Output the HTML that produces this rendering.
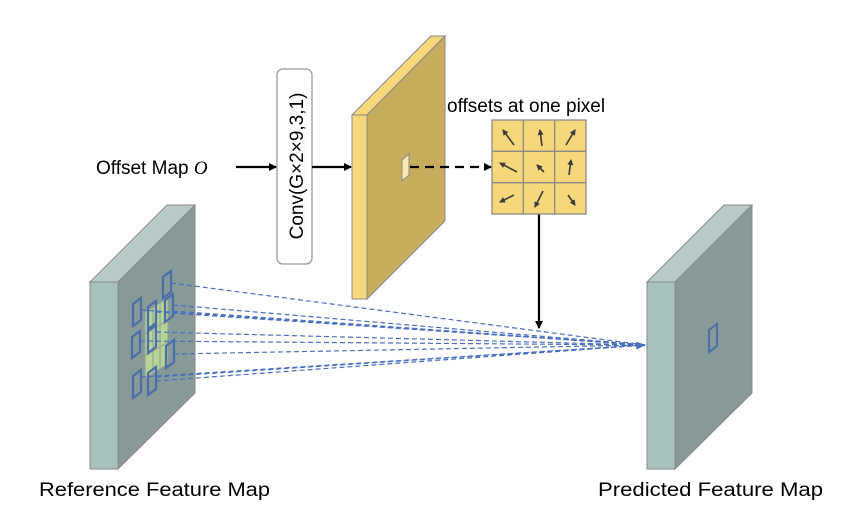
<!DOCTYPE html>
<html><head><meta charset="utf-8"><style>
html,body{margin:0;padding:0;background:#fff;}
svg{display:block;font-family:"Liberation Sans",sans-serif;}
</style></head><body>
<svg width="857" height="522" viewBox="0 0 857 522" xmlns="http://www.w3.org/2000/svg">
<defs>
<marker id="ab" markerWidth="8" markerHeight="8" refX="7" refY="4" orient="auto" markerUnits="userSpaceOnUse"><path d="M0,0 L8,4 L0,8 z" fill="#000"/></marker>
<marker id="ag" markerWidth="6" markerHeight="6" refX="5" refY="3" orient="auto" markerUnits="userSpaceOnUse"><path d="M0,0 L6,3 L0,6 z" fill="#3a3a3a"/></marker>
<marker id="abl" markerWidth="10" markerHeight="10" refX="9" refY="5" orient="auto" markerUnits="userSpaceOnUse"><path d="M0,1 L10,5 L0,9 z" fill="#4a6fc0"/></marker>
</defs>

<!-- Left slab -->
<polygon points="90,282 118,282 195,205 167,205" fill="#b8cbc8" stroke="#8a8a8a" stroke-width="1"/>
<polygon points="118,282 195,205 195,393 118,469" fill="#889a97" stroke="#8a8a8a" stroke-width="1"/>
<rect x="90" y="282" width="28" height="187" fill="#a9c1bd" stroke="#8a8a8a" stroke-width="1"/>
<!-- green grid -->
<polygon points="145,312 168,298 168,364 145,378" fill="#b5d496" stroke="#999" stroke-width="1"/>
<line x1="153" y1="307" x2="153" y2="373" stroke="#999"/>
<line x1="160" y1="303" x2="160" y2="369" stroke="#999"/>
<line x1="145" y1="334" x2="168" y2="320" stroke="#999"/>
<line x1="145" y1="356" x2="168" y2="342" stroke="#999"/>
<g fill="none" stroke="#4a6fa8" stroke-width="2.2">
<polygon points="163,277 171,271 171,292 163,298"/>
<polygon points="133,304 141,298 141,320 133,326"/>
<polygon points="148,307 156,301 156,323 148,329"/>
<polygon points="165,300 173,294 173,316 165,322"/>
<polygon points="148,331 156,325 156,347 148,353"/>
<polygon points="132,337 140,331 140,352 132,358"/>
<polygon points="166,346 174,340 174,362 166,368"/>
<polygon points="133,376 141,370 141,392 133,398"/>
<polygon points="148,373 156,367 156,389 148,395"/>
</g>
<g stroke="#4a6fc0" stroke-width="1.2" stroke-dasharray="5,3" fill="none">
<line x1="171" y1="283" x2="645" y2="345"/>
<line x1="141" y1="310" x2="645" y2="345"/>
<line x1="156" y1="312" x2="645" y2="345"/>
<line x1="173" y1="305" x2="645" y2="345"/>
<line x1="173" y1="311" x2="645" y2="345"/>
<line x1="156" y1="332" x2="645" y2="345"/>
<line x1="140" y1="341" x2="645" y2="345"/>
<line x1="174" y1="354" x2="645" y2="345"/>
<line x1="141" y1="377" x2="645" y2="345"/>
<line x1="156" y1="377" x2="645" y2="345"/>
<line x1="156" y1="381" x2="645" y2="345" marker-end="url(#abl)"/>
</g>

<!-- Right slab -->
<polygon points="647,282 675,282 752,205 724,205" fill="#b8cbc8" stroke="#8a8a8a" stroke-width="1"/>
<polygon points="675,282 752,205 752,393 675,469" fill="#889a97" stroke="#8a8a8a" stroke-width="1"/>
<rect x="647" y="282" width="28" height="187" fill="#a9c1bd" stroke="#8a8a8a" stroke-width="1"/>
<polygon points="709,330 717,324 717,346 709,352" fill="none" stroke="#4a6fa8" stroke-width="2"/>

<!-- Yellow slab -->
<polygon points="352,115 367,115 445,36 431,36" fill="#f6d77a" stroke="#8a8a8a" stroke-width="1"/>
<polygon points="367,115 445,36 445,221 367,299" fill="#c8ad5e" stroke="#8a8a8a" stroke-width="1"/>
<rect x="352" y="115" width="15" height="184" fill="#f6d77a" stroke="#8a8a8a" stroke-width="1"/>
<polygon points="402,160 409,154 409,175 402,181" fill="#fbe7b0" stroke="#8a8a8a" stroke-width="1"/>

<!-- Conv box -->
<rect x="277" y="69" width="35" height="195" rx="6" fill="#fff" stroke="#999" stroke-width="1.3"/>
<text transform="translate(303,166) rotate(-90)" text-anchor="middle" font-size="19" fill="#000">Conv(G×2×9,3,1)</text>

<!-- arrows -->
<text x="96" y="174" font-size="19" fill="#000">Offset Map <tspan font-family="Liberation Serif" font-style="italic">O</tspan></text>
<line x1="236" y1="167" x2="276" y2="167" stroke="#000" stroke-width="2.2" marker-end="url(#ab)"/>
<line x1="312" y1="167" x2="351" y2="167" stroke="#000" stroke-width="2.2" marker-end="url(#ab)"/>
<line x1="410" y1="167" x2="491" y2="167" stroke="#000" stroke-width="2.2" stroke-dasharray="9,6" marker-end="url(#ab)"/>
<line x1="539" y1="214" x2="539" y2="328" stroke="#000" stroke-width="2.2" marker-end="url(#ab)"/>

<!-- grid -->
<text x="447" y="112" font-size="19" fill="#000">offsets at one pixel</text>
<rect x="492" y="120" width="94" height="94" fill="#f6d77a" stroke="#8a8a8a" stroke-width="1.3"/>
<g stroke="#8a8a8a" stroke-width="1.3">
<line x1="523.3" y1="120" x2="523.3" y2="214"/><line x1="554.7" y1="120" x2="554.7" y2="214"/>
<line x1="492" y1="151.3" x2="586" y2="151.3"/><line x1="492" y1="182.7" x2="586" y2="182.7"/>
</g>
<g stroke="#3a3a3a" stroke-width="1.6" marker-end="url(#ag)">
<line x1="514" y1="145" x2="503" y2="130"/>
<line x1="542" y1="146" x2="540" y2="130"/>
<line x1="566" y1="145" x2="575" y2="130"/>
<line x1="517" y1="172" x2="500" y2="163"/>
<line x1="544" y1="172" x2="537" y2="165"/>
<line x1="569" y1="175" x2="571" y2="160"/>
<line x1="514" y1="195" x2="500" y2="202"/>
<line x1="543" y1="191" x2="535" y2="207"/>
<line x1="568" y1="195" x2="575" y2="205"/>
</g>

<text x="39" y="496" font-size="19" fill="#000" textLength="231" lengthAdjust="spacingAndGlyphs">Reference Feature Map</text>
<text x="598" y="496" font-size="19" fill="#000" textLength="225" lengthAdjust="spacingAndGlyphs">Predicted Feature Map</text>
</svg>
</body></html>
